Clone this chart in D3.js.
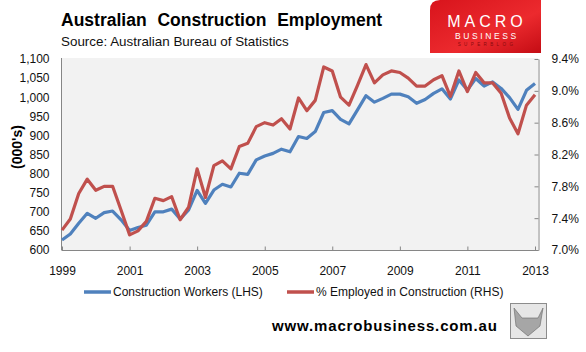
<!DOCTYPE html>
<html>
<head>
<meta charset="utf-8">
<script src="https://cdn.jsdelivr.net/npm/d3@7"></script>
<style>
  body { margin: 0; background: #fff; }
  svg { display: block; font-family: "Liberation Sans", Arial, sans-serif; }
</style>
</head>
<body>
<svg id="chart" width="586" height="352"></svg>
<script>
// quarterly data, 1999 Q1 to 2013 Q1
var workers = [626, 642, 670, 696, 683, 698, 702, 679, 651, 659,
  665, 700, 700, 707, 681, 705, 756, 722, 757, 772,
  765, 801, 798, 836, 846, 853, 864, 857, 897, 892,
  910, 960, 965, 942, 930, 967, 1004, 987, 997, 1008,
  1008, 1001, 984, 994, 1010, 1022, 995, 1045, 1019, 1049,
  1029, 1040, 1023, 999, 968, 1018, 1036];
var pctConstruction = [7.25, 7.39, 7.71, 7.89, 7.75, 7.80, 7.80, 7.50, 7.19, 7.24,
  7.36, 7.65, 7.62, 7.67, 7.38, 7.54, 8.02, 7.66, 8.06, 8.12,
  8.02, 8.30, 8.34, 8.55, 8.60, 8.57, 8.65, 8.52, 8.91, 8.75,
  8.88, 9.30, 9.25, 8.92, 8.82, 9.07, 9.33, 9.10, 9.20, 9.25,
  9.23, 9.16, 9.06, 9.06, 9.14, 9.19, 8.93, 9.25, 8.99, 9.23,
  9.10, 9.10, 8.97, 8.66, 8.46, 8.82, 8.95];
var quarters = d3.timeMonth.every(3).range(new Date(1999, 0, 1), new Date(2013, 0, 2));
var leftTicks = [600, 650, 700, 750, 800, 850, 900, 950, 1000, 1050, 1100];
var rightTicks = [7.0, 7.4, 7.8, 8.2, 8.6, 9.0, 9.4];
var yearTicks = [1999, 2001, 2003, 2005, 2007, 2009, 2011, 2013];
var seriesNames = ["Construction Workers (LHS)", "% Employed in Construction (RHS)"];
var colors = ["#4f81bd", "#c0504d"];

var svg = d3.select("#chart");

//plot area bounds
var plot = {left: 62, right: 538, top: 58, bottom: 250};

var x = d3.scaleTime()
    .domain([new Date(1999, 0, 1), new Date(2013, 0, 1)])
    .range([62, 535]);
var yL = d3.scaleLinear().domain([600, 1100]).range([250, 59]);
var yR = d3.scaleLinear().domain([7.0, 9.4]).range([250, 59]);

//grey plot background
svg.append("rect")
    .attr("x", plot.left).attr("y", plot.top)
    .attr("width", plot.right - plot.left)
    .attr("height", plot.bottom - plot.top)
    .attr("fill", "#f2f2f2");

//left axis, labels only
var fmt = d3.format(",");
svg.append("g")
    .attr("transform", "translate(" + (plot.left - 0.5) + ",0)")
    .call(d3.axisLeft(yL).tickValues(leftTicks).tickSize(0).tickPadding(12).tickFormat(fmt))
    .call(function(g) {
        g.select(".domain").attr("stroke", "#868686").attr("d", "M0," + plot.top + "V" + plot.bottom);
        g.selectAll("text").attr("font-size", 12).attr("fill", "#111");
    });

//right axis
svg.append("g")
    .attr("transform", "translate(" + (plot.right + 0.5) + ",0)")
    .call(d3.axisRight(yR).tickValues(rightTicks).tickSizeInner(-4).tickSizeOuter(0).tickPadding(13)
        .tickFormat(function(d) { return d.toFixed(1) + "%"; }))
    .call(function(g) {
        g.select(".domain").attr("stroke", "#868686");
        g.selectAll("line").attr("stroke", "#868686");
        g.selectAll("text").attr("font-size", 12).attr("fill", "#111");
    });

//bottom axis
svg.append("g")
    .attr("transform", "translate(0," + (plot.bottom + 0.5) + ")")
    .call(d3.axisBottom(x)
        .tickValues(yearTicks.map(function(y) { return new Date(y, 0, 1); }))
        .tickSizeInner(-4).tickSizeOuter(0).tickPadding(16)
        .tickFormat(d3.timeFormat("%Y")))
    .call(function(g) {
        g.select(".domain").attr("stroke", "#868686").attr("d", "M" + (plot.left - 0.5) + ",0H" + (plot.right + 0.5));
        g.selectAll("line").attr("stroke", "#868686");
        g.selectAll("text").attr("font-size", 12).attr("fill", "#111");
    });

//lines
var lineL = d3.line().x(function(d, i) { return x(quarters[i]); }).y(function(d) { return yL(d); });
var lineR = d3.line().x(function(d, i) { return x(quarters[i]); }).y(function(d) { return yR(d); });

svg.append("path").datum(workers)
    .attr("d", lineL).attr("fill", "none")
    .attr("stroke", colors[0]).attr("stroke-width", 3.2).attr("stroke-linejoin", "round");
svg.append("path").datum(pctConstruction)
    .attr("d", lineR).attr("fill", "none")
    .attr("stroke", colors[1]).attr("stroke-width", 3.2).attr("stroke-linejoin", "round");

//y axis title
svg.append("text")
    .attr("transform", "translate(22,147) rotate(-90)")
    .attr("text-anchor", "middle")
    .attr("font-size", 14).attr("font-weight", "bold")
    .text("(000's)");

//titles
svg.append("text")
    .attr("x", 61).attr("y", 26)
    .attr("font-size", 17.5).attr("font-weight", "bold")
    .attr("word-spacing", 6)
    .text("Australian Construction Employment");
svg.append("text")
    .attr("x", 61).attr("y", 46)
    .attr("font-size", 13.4).attr("fill", "#111")
    .text("Source: Australian Bureau of Statistics");

//legend
var legendX = [84, 287];
var legend = svg.selectAll(".legend").data(seriesNames).enter().append("g")
    .attr("class", "legend")
    .attr("transform", function(d, i) { return "translate(" + legendX[i] + ",292)"; });
legend.append("line")
    .attr("x1", 0).attr("x2", 27)
    .attr("stroke", function(d, i) { return colors[i]; })
    .attr("stroke-width", 3.5);
legend.append("text")
    .attr("x", 29).attr("y", 4)
    .attr("font-size", 12).attr("fill", "#111")
    .text(function(d) { return d; });

//macrobusiness logo
var grad = svg.append("defs").append("linearGradient")
    .attr("id", "redgrad").attr("x1", 0).attr("y1", 0).attr("x2", 1).attr("y2", 1);
grad.append("stop").attr("offset", "0%").attr("stop-color", "#d8141c");
grad.append("stop").attr("offset", "60%").attr("stop-color", "#ec2a2e");
grad.append("stop").attr("offset", "100%").attr("stop-color", "#c40c14");

var logo = svg.append("g").attr("transform", "translate(430,0)");
logo.append("path")
    .attr("d", "M0,10 Q0,0 10,0 H111 V53 H0 Z")
    .attr("fill", "url(#redgrad)");
logo.append("text")
    .attr("x", 57).attr("y", 27)
    .attr("text-anchor", "middle")
    .attr("font-size", 16).attr("fill", "#fff")
    .attr("letter-spacing", 4)
    .text("MACRO");
logo.append("text")
    .attr("x", 57).attr("y", 38.5)
    .attr("text-anchor", "middle")
    .attr("font-size", 8.5).attr("fill", "#fff")
    .attr("letter-spacing", 2.6)
    .text("BUSINESS");
logo.append("text")
    .attr("x", 57).attr("y", 45.5)
    .attr("text-anchor", "middle")
    .attr("font-size", 4.5).attr("fill", "#8a0a0e")
    .attr("letter-spacing", 3.4)
    .text("SUPERBLOG");

//footer url
svg.append("text")
    .attr("x", 272).attr("y", 331)
    .attr("font-size", 15).attr("font-weight", "bold")
    .attr("letter-spacing", 0.85)
    .text("www.macrobusiness.com.au");

//fox picture box
svg.append("rect")
    .attr("x", 510.5).attr("y", 303.5)
    .attr("width", 36).attr("height", 35)
    .attr("fill", "#e6e6e6").attr("stroke", "#8c8c8c");
svg.append("path")
    .attr("d", "M514,308 L522,318 L538,318 L543,308 L540,326 L528,336 L516,326 Z")
    .attr("fill", "#a6a6a6").attr("stroke", "#666").attr("stroke-width", 0.6);
</script>
</body>
</html>
